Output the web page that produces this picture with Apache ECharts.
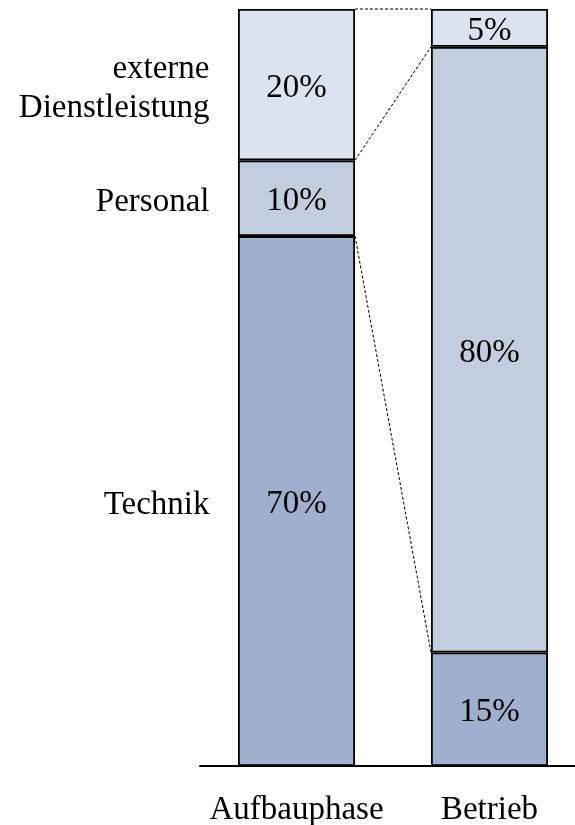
<!DOCTYPE html>
<html>
<head>
<meta charset="utf-8">
<script src="https://cdn.jsdelivr.net/npm/echarts@6/dist/echarts.min.js"></script>
<style>
html,body{margin:0;padding:0;background:#fff;}
#c{width:575px;height:825px;}
</style>
</head>
<body>
<div id="c"></div>
<script>
const categories = ['Aufbauphase', 'Betrieb'];
const seriesNames = ['Technik', 'Personal', 'externe\nDienstleistung'];
const technik = [70, 15];
const personal = [10, 80];
const extern = [20, 5];

const allSeries = [technik, personal, extern];
const colors = ['#9eb0ce', '#c3cde0', '#dce3ee'];
const FONT = '"Liberation Serif", "Times New Roman", serif';
const FS = 33;
const HALF_BAR = 58.5;

const cumTops = allSeries.map((s, i) => categories.map((c, k) => {
  let sum = 0;
  for (let j = 0; j <= i; j++) sum += allSeries[j][k];
  return sum;
}));
const connectors = cumTops.map(t => [0, t[0], 1, t[1]]);
const leftLabels = allSeries.map((s, i) => [0, cumTops[i][0] - s[0] / 2, i]);

const chart = echarts.init(document.getElementById('c'), null, {renderer: 'canvas'});

const barSeries = allSeries.map((s, i) => ({
  type: 'bar',
  name: seriesNames[i],
  stack: 'total',
  data: s,
  barWidth: 117,
  itemStyle: {color: colors[i], borderColor: '#000', borderWidth: 1.8},
  label: {
    show: true,
    position: 'inside',
    offset: [0, 3.5],
    formatter: '{c}%',
    color: '#000',
    fontFamily: FONT,
    fontSize: FS
  },
  emphasis: {disabled: true},
  animation: false
}));

chart.setOption({
  animation: false,
  grid: {left: 200, top: 9, bottom: 59, width: 386, outerBoundsMode: 'none', containLabel: false},
  xAxis: {
    type: 'category',
    data: categories,
    axisTick: {show: false},
    axisLine: {lineStyle: {color: '#000', width: 2}},
    axisLabel: {color: '#000', fontFamily: FONT, fontSize: FS, margin: 28, interval: 0, hideOverlap: false}
  },
  yAxis: {
    type: 'value', min: 0, max: 100, show: false,
    splitLine: {show: false}
  },
  series: barSeries.concat([
    {
      type: 'custom',
      data: connectors,
      encode: {x: [0, 2], y: [1, 3]},
      z: 5,
      renderItem: function (params, api) {
        const p1 = api.coord([api.value(0), api.value(1)]);
        const p2 = api.coord([api.value(2), api.value(3)]);
        return {
          type: 'line',
          shape: {x1: p1[0] + HALF_BAR, y1: p1[1], x2: p2[0] - HALF_BAR, y2: p2[1]},
          style: {stroke: '#000', lineWidth: 1, lineDash: [3, 2]}
        };
      }
    },
    {
      type: 'custom',
      data: leftLabels,
      encode: {x: 0, y: 1},
      renderItem: function (params, api) {
        const p = api.coord([api.value(0), api.value(1)]);
        return {
          type: 'text',
          x: p[0] - 87,
          y: p[1] + 4,
          style: {
            text: seriesNames[api.value(2)],
            align: 'right',
            verticalAlign: 'middle',
            fill: '#000',
            font: FS + 'px ' + FONT,
            lineHeight: 39
          }
        };
      }
    }
  ])
});
</script>
</body>
</html>
